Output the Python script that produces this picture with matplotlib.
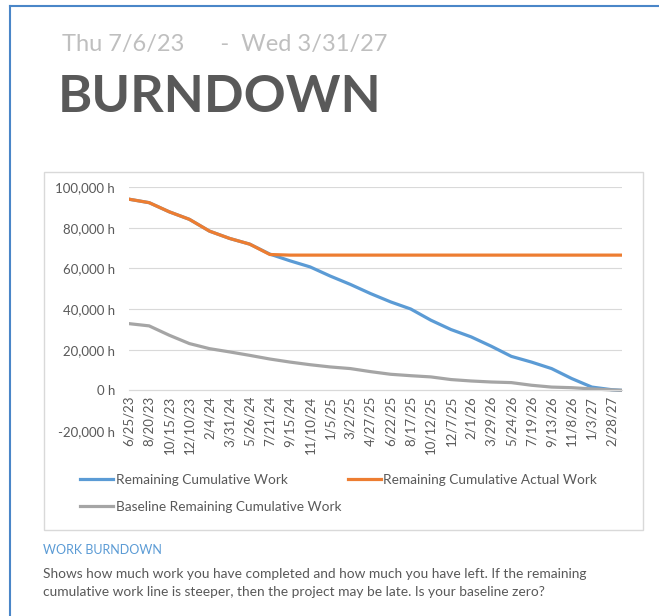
import matplotlib.pyplot as plt
from matplotlib.patches import Rectangle
from matplotlib.lines import Line2D
import pandas as pd

# values, one per 8-week label plus the last week
dates = ['6/25/23', '8/20/23', '10/15/23', '12/10/23', '2/4/24', '3/31/24', '5/26/24',
         '7/21/24', '9/15/24', '11/10/24', '1/5/25', '3/2/25', '4/27/25', '6/22/25',
         '8/17/25', '10/12/25', '12/7/25', '2/1/26', '3/29/26', '5/24/26', '7/19/26',
         '9/13/26', '11/8/26', '1/3/27', '2/28/27', '3/28/27']
remaining_work = [94000, 92300, 87800, 84100, 78300, 74700, 71900, 67000, 63700, 60700,
                  56200, 52100, 47600, 43500, 40000, 34500, 29900, 26300, 21700, 16700,
                  13900, 10700, 5800, 1600, 300, 0]
remaining_actual = [94000, 92300, 87800, 84100, 78300, 74700, 71900, 66800, 66500, 66500,
                    66500, 66500, 66500, 66500, 66500, 66500, 66500, 66500, 66500, 66500,
                    66500, 66500, 66500, 66500, 66500, 66500]
baseline_work = [32800, 31700, 27100, 23000, 20500, 18900, 17200, 15400, 13900, 12600,
                 11500, 10700, 9200, 7900, 7200, 6600, 5300, 4600, 4100, 3800,
                 2500, 1600, 1300, 700, 200, 0]
tick_labels = dates[:-1]

x = pd.to_datetime(dates, format='%m/%d/%y')

W, H = 659, 616
plt.rcParams['font.family'] = ['Lato', 'DejaVu Sans']
fig = plt.figure(figsize=(W / 100, H / 100), dpi=100)

def fx(px):
    return px / W

def fy(py):
    return 1 - py / H

# outer blue frame
fig.add_artist(Line2D([fx(10), 1], [fy(6), fy(6)], color='#4a86c8', lw=1.5, transform=fig.transFigure))
fig.add_artist(Line2D([fx(10), fx(10)], [fy(6), 0], color='#4a86c8', lw=1.5, transform=fig.transFigure))

# chart box
fig.add_artist(Rectangle((fx(44), fy(530)), fx(643) - fx(44), fy(172) - fy(530),
                         fill=False, edgecolor='#d9d9d9', lw=1, transform=fig.transFigure))

fig.text(fx(62), fy(51), 'Thu 7/6/23      -  Wed 3/31/27', fontsize=17, color='#bfbfbf',
         va='baseline', ha='left')
fig.text(fx(58), fy(112), 'BURNDOWN', fontsize=37.5, color='#595959', fontweight='bold',
         va='baseline', ha='left')

ax = fig.add_axes([fx(129), fy(431), fx(622) - fx(129), fy(187) - fy(431)])
ax.plot(x, remaining_work, color='#5b9bd5', lw=2.3, label='Remaining Cumulative Work')
ax.plot(x, remaining_actual, color='#ed7d31', lw=2.3, label='Remaining Cumulative Actual Work')
ax.plot(x, baseline_work, color='#a5a5a5', lw=2.3, label='Baseline Remaining Cumulative Work')

ax.set_ylim(-20000, 100000)
ax.set_yticks(range(-20000, 100001, 20000))
ax.set_yticklabels([f'{v:,} h' for v in range(-20000, 100001, 20000)])
ax.set_xlim(x[0], x[-1])
ax.set_xticks(x[:-1])
ax.set_xticklabels(tick_labels)
ax.grid(axis='y', color='#d9d9d9', lw=0.8)
ax.set_axisbelow(True)
for s in ['top', 'right', 'left']:
    ax.spines[s].set_visible(False)
ax.spines['bottom'].set_position(('data', 0))
ax.spines['bottom'].set_color('#d9d9d9')
ax.tick_params(axis='both', length=0, labelsize=9.5, labelcolor='#595959')
ax.tick_params(axis='y', pad=10)
ax.tick_params(axis='x', pad=4, labelrotation=90)

h, l = ax.get_legend_handles_labels()
fig.legend([h[0], h[2], h[1]], [l[0], l[2], l[1]], ncol=2, loc='upper left',
           bbox_to_anchor=(fx(68), fy(462)), frameon=False, fontsize=9.8,
           labelcolor='#595959', handlelength=2.4, handletextpad=0.2,
           columnspacing=0.5, labelspacing=1.05)

fig.text(fx(43), fy(554), 'WORK BURNDOWN', fontsize=9, color='#5b9bd5', va='baseline')
fig.text(fx(43), fy(578), 'Shows how much work you have completed and how much you have left. If the remaining',
         fontsize=9.9, color='#595959', va='baseline')
fig.text(fx(43), fy(596), 'cumulative work line is steeper, then the project may be late. Is your baseline zero?',
         fontsize=9.9, color='#595959', va='baseline')

fig.savefig('out.png', dpi=100)
